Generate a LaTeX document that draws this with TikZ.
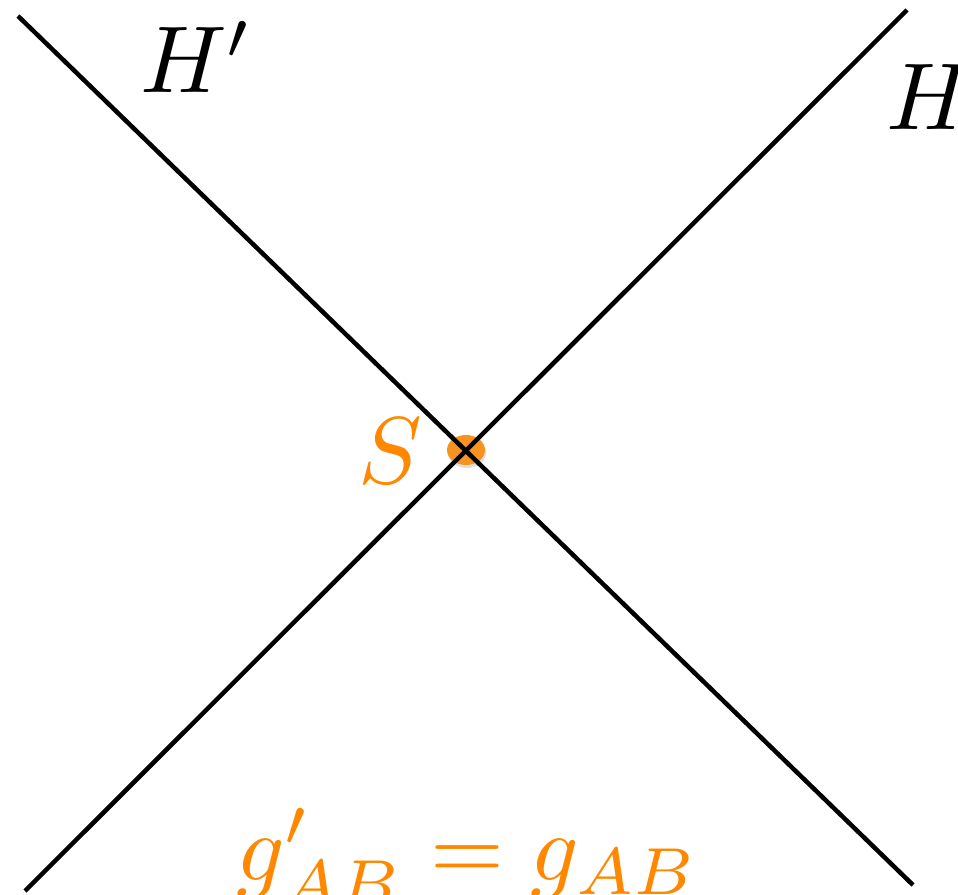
\documentclass[tikz,border=0pt]{standalone}
\usetikzlibrary{shapes.geometric}
\definecolor{labelorange}{RGB}{255,136,0}
\definecolor{dotorange}{RGB}{247,147,30}
\newcommand{\bigmath}[1]{\scalebox{9.5}{$#1$}}
\begin{document}
\begin{tikzpicture}[x=1pt,y=1pt,
  lbl/.style={inner sep=0pt},
  ln/.style={line width=4.5pt,black}]
\useasboundingbox (0,0) rectangle (958,894);
% line endpoints
\coordinate (a1) at (18,878);
\coordinate (a2) at (913,9);
\coordinate (b1) at (25,3);
\coordinate (b2) at (907,884);
% point S
\node[ellipse,fill=black!25,opacity=0.5,minimum width=38pt,minimum height=30pt,inner sep=0pt] (sh) at (467,441) {};
\node[ellipse,fill=dotorange,minimum width=38pt,minimum height=30pt,inner sep=0pt] (S) at (466,444) {};
\draw[ln] (a1) -- (a2);
\draw[ln] (b1) -- (b2);
% labels
\node[lbl,anchor=base west] (Hp) at (140,801) {\bigmath{H'}};
\node[lbl,anchor=base west] (H) at (886,764) {\bigmath{H}};
\node[lbl,anchor=base west,text=labelorange] (Slab) at (358,410) {\bigmath{S}};
\node[lbl,anchor=base west,text=labelorange] (eq) at (236,14) {\bigmath{g'_{AB}=g_{AB}}};
\end{tikzpicture}
\end{document}
